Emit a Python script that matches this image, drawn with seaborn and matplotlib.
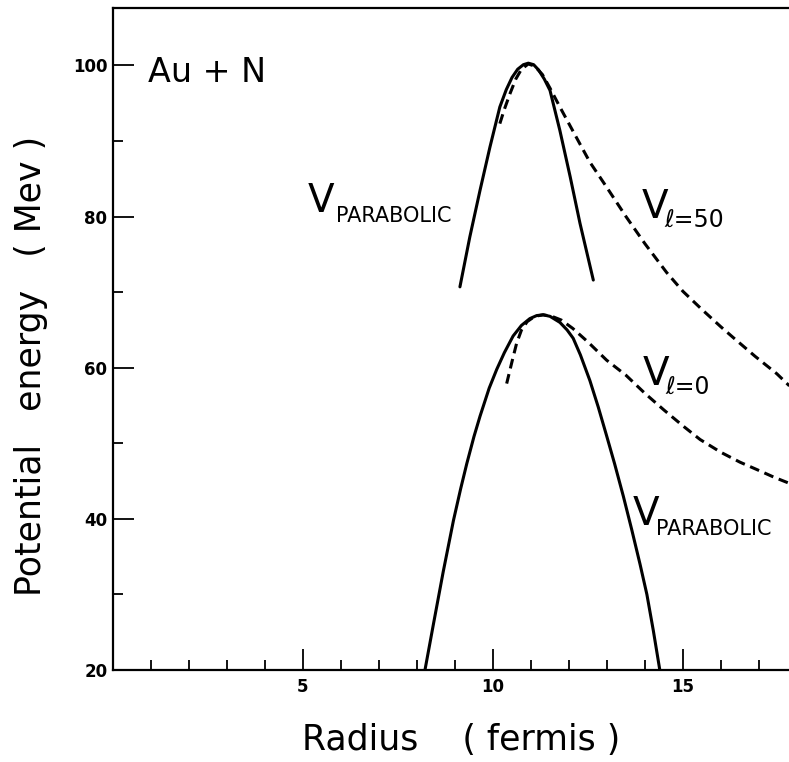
import matplotlib
matplotlib.use("Agg")
import matplotlib.pyplot as plt
import seaborn as sns
import pandas as pd
from matplotlib.ticker import MultipleLocator, FixedLocator

# ---- data ----
upper_par_x = [9.13, 9.39, 9.66, 9.92, 10.18, 10.35, 10.5, 10.65, 10.8, 10.93, 11.07, 11.2, 11.35,
               11.5, 11.76, 12.03, 12.29, 12.64]
upper_par_y = [70.7, 77.3, 83.5, 89.2, 94.5, 96.8, 98.4, 99.5, 100.1, 100.3, 100.1, 99.4, 98.2,
               96.7, 91.4, 85.3, 79.1, 71.6]

upper_dash_x = [10.18, 10.3, 10.45, 10.6, 10.75, 10.93, 11.1, 11.3, 11.5, 11.75, 12.03, 12.3, 12.55,
                12.99, 13.5, 14.0, 14.57, 15.0, 15.5, 16.0, 16.32, 16.9, 17.47, 17.8]
upper_dash_y = [92.3, 94.2, 96.3, 98.2, 99.5, 100.2, 99.9, 98.8, 97.0, 94.6, 92.0, 89.5, 87.2,
                83.9, 80.0, 76.4, 72.6, 70.1, 67.7, 65.4, 64.0, 61.5, 59.2, 57.6]

lower_par_x = [8.21, 8.43, 8.69, 8.96, 9.15, 9.31, 9.5, 9.66, 9.9, 10.1, 10.3, 10.53, 10.75, 10.97,
               11.15, 11.32, 11.5, 11.76, 11.95, 12.11, 12.3, 12.55, 12.77, 12.99, 13.2, 13.43,
               13.65, 13.87, 14.05, 14.22, 14.39]
lower_par_y = [20.0, 26.0, 33.0, 39.8, 44.0, 47.3, 50.9, 53.6, 57.3, 59.8, 62.0, 64.2, 65.6, 66.5,
               66.9, 67.0, 66.8, 66.0, 65.0, 63.9, 61.7, 58.3, 54.8, 51.0, 47.3, 43.0,
               38.6, 34.0, 30.0, 25.2, 20.0]

lower_dash_x = [10.36, 10.5, 10.62, 10.75, 10.9, 11.1, 11.32, 11.55, 11.8, 12.1, 12.5, 12.99, 13.5,
                14.0, 14.5, 15.0, 15.45, 16.0, 16.5, 17.0, 17.4, 17.8]
lower_dash_y = [57.9, 60.8, 63.2, 65.0, 66.1, 66.8, 67.0, 66.8, 66.3, 65.2, 63.4, 61.0, 59.0,
                56.6, 54.4, 52.3, 50.5, 48.8, 47.5, 46.4, 45.5, 44.7]

y_major = [20, 40, 60, 80, 100]
y_minor = [30, 50, 70, 90]
x_major = [5, 10, 15]
x_tick_labels = ["5", "10", "15"]

curves = [
    (upper_par_x, upper_par_y, "solid"),
    (upper_dash_x, upper_dash_y, "dashed"),
    (lower_par_x, lower_par_y, "solid"),
    (lower_dash_x, lower_dash_y, "dashed"),
]

sns.set_style("white")
plt.rcParams["font.family"] = ["DejaVu Sans"]
plt.rcParams["text.color"] = "black"
plt.rcParams["axes.labelcolor"] = "black"

fig = plt.figure(figsize=(7.89, 7.62), dpi=100)
ax = fig.add_axes([113 / 789, 1 - 670 / 762, 1 - 113 / 789, (670 - 8) / 762])

for xs, ys, style in curves:
    df = pd.DataFrame({"x": xs, "y": ys})
    ls = "-" if style == "solid" else (0, (3.2, 1.9))
    sns.lineplot(data=df, x="x", y="y", ax=ax, sort=False, color="black",
                 linewidth=2.2, linestyle=ls, estimator=None)

ax.set_xlim(0, 17.79)
ax.set_ylim(20, 107.6)

ax.xaxis.set_major_locator(FixedLocator(x_major))
ax.set_xticklabels(x_tick_labels)
ax.xaxis.set_minor_locator(MultipleLocator(1))
ax.yaxis.set_major_locator(FixedLocator(y_major))
ax.set_yticklabels([str(v) for v in y_major])
ax.yaxis.set_minor_locator(FixedLocator(y_minor))

ax.tick_params(axis="both", which="both", bottom=True, left=True, top=False, right=False)
ax.tick_params(axis="both", which="major", direction="in", length=15, width=1.3,
               color="black", labelsize=12, labelcolor="black")
ax.tick_params(axis="both", which="minor", direction="in", length=7, width=1.3, color="black")
ax.tick_params(axis="x", which="major", pad=6)
ax.tick_params(axis="y", which="major", pad=4)
for lab in ax.get_xticklabels() + ax.get_yticklabels():
    lab.set_fontweight("bold")

for side in ["left", "bottom", "top"]:
    ax.spines[side].set_visible(True)
    ax.spines[side].set_color("black")
    ax.spines[side].set_linewidth(1.6)
ax.spines["right"].set_visible(False)

ax.set_xlabel("Radius    ( fermis )", fontsize=25)
ax.xaxis.label.set_va("center")
ax.xaxis.set_label_coords(0.5155, -0.106)
ax.set_ylabel("Potential   energy   ( Mev )", fontsize=25)
ax.yaxis.label.set_va("center")
ax.yaxis.set_label_coords(-0.121, 0.459)

# annotations
ax.text(0.92, 97.8, "Au + N", fontsize=24, ha="left", va="baseline")

ax.text(5.13, 80.6, "V", fontsize=28, ha="left", va="baseline")
ax.text(5.87, 79.3, "PARABOLIC", fontsize=15, ha="left", va="baseline")

ax.text(13.68, 39.2, "V", fontsize=28, ha="left", va="baseline")
ax.text(14.28, 37.9, "PARABOLIC", fontsize=15, ha="left", va="baseline")

ax.text(13.92, 79.8, "V", fontsize=28, ha="left", va="baseline")
ax.text(14.5, 78.7, "ℓ=50", fontsize=17, ha="left", va="baseline")

ax.text(13.95, 57.7, "V", fontsize=28, ha="left", va="baseline")
ax.text(14.53, 56.6, "ℓ=0", fontsize=17, ha="left", va="baseline")

fig.savefig("out.png", dpi=100)
